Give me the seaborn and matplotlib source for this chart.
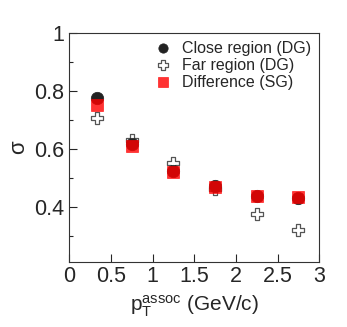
import matplotlib
matplotlib.use("Agg")
import matplotlib.pyplot as plt
import seaborn as sns
import pandas as pd
from matplotlib.ticker import MultipleLocator

# values
pt = [0.33, 0.75, 1.25, 1.75, 2.25, 2.75]
close_dg = [0.775, 0.617, 0.522, 0.470, 0.435, 0.430]
far_dg = [0.705, 0.630, 0.550, 0.460, 0.375, 0.318]
diff_sg = [0.750, 0.610, 0.518, 0.468, 0.435, 0.432]

sns.set_style("ticks")
plt.rcParams["font.family"] = ["Liberation Sans", "DejaVu Sans"]
plt.rcParams["mathtext.fontset"] = "custom"
plt.rcParams["mathtext.rm"] = "Liberation Sans"

fig, ax = plt.subplots(figsize=(3.47, 3.27), dpi=100)

df_close = pd.DataFrame({"pt": pt, "sigma": close_dg})
df_far = pd.DataFrame({"pt": pt, "sigma": far_dg})
df_diff = pd.DataFrame({"pt": pt, "sigma": diff_sg})

sns.scatterplot(data=df_close, x="pt", y="sigma", ax=ax, marker="o", s=80,
                color="#222222", edgecolor="#222222", linewidth=0.5,
                label="Close region (DG)", zorder=3)
sns.scatterplot(data=df_far, x="pt", y="sigma", ax=ax, marker="P", s=85,
                color="white", edgecolor="#555555", linewidth=0.9,
                label="Far region (DG)", zorder=2)
sns.scatterplot(data=df_diff, x="pt", y="sigma", ax=ax, marker="s", s=80,
                color="#ff0000", edgecolor="#ff0000", linewidth=0.5, alpha=0.8,
                label="Difference (SG)", zorder=4)

ax.set_xlim(0, 3)
ax.set_ylim(0.21, 1.0)
ax.yaxis.set_minor_locator(MultipleLocator(0.1))
ax.set_xticks([0, 0.5, 1, 1.5, 2, 2.5, 3])
ax.set_xticklabels(["0", "0.5", "1", "1.5", "2", "2.5", "3"])
ax.set_yticks([0.4, 0.6, 0.8, 1.0])
ax.set_yticklabels(["0.4", "0.6", "0.8", "1"])
ax.tick_params(axis="both", which="both", direction="in", labelsize=15.5,
               top=False, right=False, width=0.8)
ax.tick_params(which="major", length=6)
ax.tick_params(which="minor", length=3)
for s in ax.spines.values():
    s.set_linewidth(0.8)
    s.set_color("#333333")

ax.set_xlabel(r"$\mathrm{p_T^{assoc}}$ (GeV/c)", fontsize=15)
ax.set_ylabel("σ", fontsize=16)

ax.legend(loc="upper right", frameon=False, fontsize=11.5, handletextpad=0.2,
          borderaxespad=0.1, labelspacing=0.12, markerscale=0.75)

fig.subplots_adjust(left=0.2, right=0.92, top=0.9, bottom=0.2)
fig.savefig("out.png", dpi=100)
